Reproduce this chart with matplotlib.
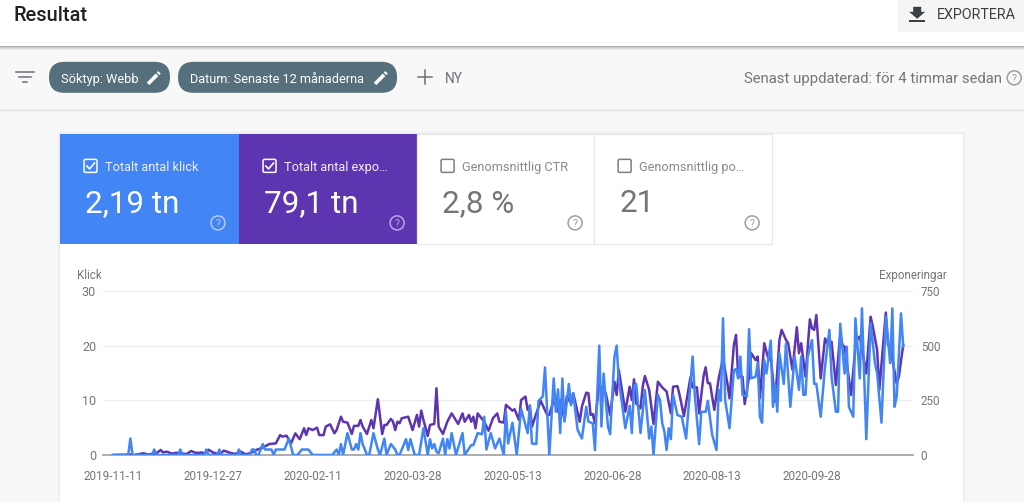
from matplotlib import pyplot as plt
from matplotlib.patches import Rectangle, FancyBboxPatch, Circle, Polygon
import pandas as pd

plt.rcParams['font.family'] = ['Roboto', 'DejaVu Sans']

# Values, day = days since the first date
start_date = "2019-11-11"
tick_dates = ["2019-11-11", "2019-12-27", "2020-02-11", "2020-03-28",
              "2020-05-13", "2020-06-28", "2020-08-13", "2020-09-28"]
left_ticks = [0, 10, 20, 30]
right_ticks = [0, 250, 500, 750]

click_days = [0, 7, 8, 9, 18, 19, 20, 30, 31, 32, 42, 43, 44, 48, 49, 50, 57, 58, 59, 63, 64, 65, 66, 67,
              69, 70, 73, 74, 75, 79, 81, 83, 85, 87, 90, 92, 101, 103, 104, 105, 106, 108, 110, 111, 112,
              113, 114, 115, 117, 118, 120, 122, 123, 125, 126, 128, 130, 131,
              132, 135, 136, 137, 139, 141, 143, 145, 146, 147, 148, 149, 150, 152, 153, 154, 155, 156, 158,
              161, 162, 165, 166, 168, 170, 171, 172, 174, 176, 178, 180, 181, 182, 183, 184, 186, 188, 191,
              192, 193, 195, 196, 198, 199, 201, 203, 204, 205, 206, 207, 208, 210, 211, 212, 214, 216, 218,
              219, 221, 222, 224, 225, 226, 228, 229, 231, 232, 233, 236, 238, 239, 240, 241, 243, 245, 247,
              248, 249, 251,
              252, 253, 254, 255, 256, 257, 258, 260, 262, 264, 267, 268, 270, 271, 273, 274, 276, 278, 279,
              280, 281, 282, 284, 286, 287, 288, 289, 290, 292, 293, 294, 296, 297, 298, 299, 300, 301, 303,
              304, 305, 306, 307, 309, 310, 312, 314, 316, 317, 318, 319, 320, 322, 323, 324, 326, 328, 330,
              331, 333, 334, 335, 337, 338, 339, 341, 342, 344, 345, 347, 349, 351, 352, 354, 356, 358, 359,
              360, 361, 363, 364]
clicks = [0, 0, 3, 0, 0, 1, 0, 0, 1, 0, 0, 1, 0, 0, 1, 0, 0, 1, 0, 0, 1, 1, 0, 0,
          2, 1, 1, 0, 1, 1, 3, 0, 0, 1, 1, 0, 0, 1, 0, 2, 0, 4, 1, 1, 2,
          1, 4, 2, 0, 0, 4, 1, 0, 3, 0, 2, 1, 0,
          0, 2.9, 0.9, 2.9, 0, 0, 4.9, 0, 2.9, 1.2, 2, 0.6, 0.3, 3, 0, 2.9, 1.2, 4, 0,
          4, 0, 1.8, 1.8, 4, 3.8, 7, 1, 4, 1.2, 3, 0, 7.9, 2.1, 4, 5.9, 0, 8.4, 4,
          9.1, 2.1, 2, 9.9, 10.7, 16, 0, 14, 7.9, 12, 4, 14, 6.1, 13, 9.1, 11.3, 4.6, 3, 8.8,
          6.1, 5.8, 0.9, 20, 5.2, 14.9, 5.2, 3.8, 18, 20, 13.7, 4.9, 9, 4, 12.5, 13, 4, 11.9, 3,
          5.2, 0, 11,
          10, 5.8, 4.3, 0.9, 4.9, 2.9, 11, 7.3, 7, 3, 18, 11, 2, 7.9, 7.9, 9.9, 3.7, 0.9, 11.9,
          9.9, 25, 10, 4.9, 15.5, 15.7, 14, 18, 11, 10.7, 23, 14, 14.3, 16.8, 7, 5.9, 17.4, 14.9, 20.9,
          8.8, 12.8, 7.9, 18.6, 13, 20.4, 8.8, 18, 11.9, 18, 11, 11, 18, 21, 13, 13, 7, 16.2, 22.9,
          14.3, 7.9, 7.9, 24, 14.9, 19.8, 8.8, 7, 25, 14, 26.8, 2.9, 24.1, 16.8, 14.9, 5.9, 25.3, 16.8, 26.8,
          8.8, 10.7, 25.9, 19.8]

expo_days = [0, 8, 10, 14, 16, 20, 22, 23, 25, 27, 29, 31, 33, 34, 36, 38, 40, 41, 42, 43, 44, 46, 48, 50, 51,
             54, 56, 58, 59, 61, 63, 64, 66, 69, 72, 75, 77, 78, 80, 82, 84, 86, 88, 89, 90, 92, 94, 95, 97,
             98, 100, 102, 103, 105, 106, 108, 110, 111, 113, 114, 115, 117, 119, 120, 122, 124, 125, 126,
             128, 129, 130, 131,
             132, 133, 136, 138, 140, 141, 142, 143, 145, 146, 148, 149, 150, 152, 154, 156, 159, 161, 162,
             164, 165, 166, 167, 168, 171, 173, 175, 177, 178, 180, 181, 184, 185, 187, 188, 190, 191, 192,
             193, 195, 197, 200, 201, 203, 205, 206, 208, 209, 211, 212, 215, 216, 218, 219, 220, 221, 222,
             224, 225, 227, 229, 231, 232, 233, 236, 238, 239, 240, 241, 243, 244, 245, 247, 249, 251,
             253, 255, 257, 258, 260, 261, 263, 266, 267, 269, 270, 272, 273, 274, 275, 277, 279, 281, 283,
             284, 286, 287, 288, 290, 291, 293, 294, 296, 297, 298, 300, 302, 303, 305, 307, 308, 310, 311,
             313, 315, 316, 317, 319, 321, 322, 323, 324, 326, 328, 329, 331, 333, 335, 336, 337, 340, 342,
             343, 344, 347, 349, 350, 352, 353, 356, 357, 358, 361, 362, 364]
expo = [0, 2, 0, 8, 2, 8, 23, 12, 15, 6, 10, 8, 5, 5, 18, 10, 10, 12, 5, 15, 24, 12, 5, 10, 20,
        10, 5, 10, 15, 3, 8, 12, 23, 34, 50, 53, 91, 84, 88, 53, 99, 72, 122, 91, 122, 114, 125, 91, 91,
        130, 140, 99, 114, 175, 152, 148, 96, 133, 133, 160, 130, 96, 160, 122, 255, 96, 137, 137,
        165, 152, 114, 152,
        145, 168, 175, 114, 183, 130, 203, 160, 87, 137, 142, 305, 130, 96, 152, 190, 142, 190, 152,
        183, 152, 175, 122, 190, 152, 111, 168, 190, 152, 148, 229, 203, 209, 160, 251, 267, 206, 224,
        130, 190, 248, 183, 183, 251, 198, 251, 160, 267, 236, 282, 152, 221, 285, 282, 183, 187, 145,
        328, 297, 282, 183, 335, 274, 389, 198, 312, 251, 346, 236, 213, 312, 361, 297, 142, 335,
        309, 290, 190, 312, 315, 274, 178, 355, 309, 309, 190, 358, 401, 328, 328, 206, 350, 442, 328,
        259, 503, 549, 358, 358, 233, 358, 465, 434, 450, 259, 511, 434, 450, 244, 526, 572, 526, 511,
        389, 584, 465, 511, 358, 620, 579, 572, 640, 350, 533, 511, 518, 320, 556, 503, 495, 274, 495,
        533, 541, 373, 632, 587, 480, 297, 651, 503, 495, 328, 358, 503]

card_labels = ["Totalt antal klick", "Totalt antal expo…", "Genomsnittlig CTR", "Genomsnittlig po…"]
card_values = ["2,19 tn", "79,1 tn", "2,8 %", "21"]

W, H = 1024, 502
BLUE = "#4285f4"
PURPLE = "#5e35b1"
CHIP = "#566f7c"
GRAY = "#757575"


def help_icon(ax, x, y, color):
    ax.add_patch(Circle((x, y), 7, fill=False, ec=color, lw=1.1))
    ax.text(x, y + 1, "?", color=color, fontsize=7.5, ha="center", va="center")


def checkbox(ax, x, y, color, checked):
    ax.add_patch(FancyBboxPatch((x + 0.5, y + 0.5), 13, 13, boxstyle="round,pad=0,rounding_size=1.5",
                                fill=False, ec=color, lw=1.1))
    if checked:
        ax.plot([x + 3.3, x + 6, x + 11], [y + 7.2, y + 10, y + 4.2], color=color, lw=1.2)


def pencil(ax, x, y):
    ax.plot([x - 6, x + 3], [y + 6, y - 3], color="white", lw=2.6, solid_capstyle="butt", zorder=5)
    ax.plot([x + 4, x + 5.5], [y - 4, y - 5.5], color="white", lw=2.6, solid_capstyle="butt", zorder=5)


def chip(ax, x0, x1, label):
    ax.add_patch(FancyBboxPatch((x0, 62), x1 - x0, 31, boxstyle="round,pad=0,rounding_size=15.5",
                                fc=CHIP, ec="none", zorder=3))
    ax.text(x0 + 12, 79, label, color="white", fontsize=9.2, va="center", zorder=4)
    pencil(ax, x1 - 16, 78)


fig = plt.figure(figsize=((W + 0.2) / 100, (H + 0.2) / 100), dpi=100, facecolor="#f8f8f8")

# page chrome in pixel coordinates
bg = fig.add_axes([0, 0, 1, 1])
bg.set_xlim(0, W)
bg.set_ylim(H, 0)
bg.axis("off")

for i, a in enumerate([0.30, 0.18, 0.10, 0.05]):
    bg.add_patch(Rectangle((0, 46 + i), W, 1.2, fc="black", alpha=a, ec="none"))
bg.add_patch(Rectangle((0, 0), W, 46.5, fc="white", ec="none"))
bg.text(13, 15.5, "Resultat", color="#202124", fontsize=14.4, va="center", fontweight="medium")

bg.add_patch(Rectangle((898, 0), 126, 32, fc="#f5f5f5", ec="none"))
bg.add_patch(Polygon([(913, 7), (921, 7), (921, 12), (925, 12), (917, 19), (909, 12), (913, 12)], fc="#3c4043", ec="none"))
bg.add_patch(Rectangle((909, 20), 16, 2, fc="#3c4043", ec="none"))
bg.text(937, 15, "EXPORTERA", color="#3c4043", fontsize=10.3, va="center")

# filter bar
for y, x0, x1 in [(72, 16, 34), (77, 19, 31), (82, 23, 27)]:
    bg.plot([x0, x1], [y, y], color="#6b6f73", lw=1.1)
chip(bg, 49, 170, "Söktyp: Webb")
chip(bg, 178, 397, "Datum: Senaste 12 månaderna")
bg.plot([418, 432], [77.5, 77.5], color="#6b6f73", lw=1.1)
bg.plot([425, 425], [70.5, 84.5], color="#6b6f73", lw=1.1)
bg.text(445, 79, "NY", color="#6b6f73", fontsize=9.8, va="center")
bg.text(744, 79, "Senast uppdaterad: för 4 timmar sedan", color=GRAY, fontsize=10.7, va="center")
help_icon(bg, 1014, 78, "#9e9e9e")
bg.plot([0, W], [110, 110], color="#e0e0e0", lw=1)

# card
for i, a in enumerate([0.01, 0.015, 0.02]):
    bg.add_patch(Rectangle((57 + i, 131 + i), 909 - 2 * i, 400, fc="black", alpha=a, ec="none"))
bg.add_patch(Rectangle((60, 134), 903, 400, fc="white", ec="none"))

# metric tiles
tile_x = [60, 239, 417, 594]
tile_w = [179, 178, 177, 178]
for i in range(4):
    x = tile_x[i]
    active = i < 2
    fc = [BLUE, PURPLE, "white", "white"][i]
    bg.add_patch(Rectangle((x, 134), tile_w[i], 110, fc=fc, ec="none" if active else "#e8e8e8", lw=0.9))
    fg = "white" if active else GRAY
    checkbox(bg, x + 23.5, 159, fg if active else "#7d7d7d", active)
    bg.text(x + 44.5, 167, card_labels[i], color="#f1effa" if active else "#8a8a8a", fontsize=9.2, va="center")
    bg.text(x + 25, 203.5, card_values[i], color=fg, fontsize=22.6, va="center")
    help_icon(bg, x + 158, 223, "#b9c9ee" if i == 0 else "#b9a5e0" if i == 1 else "#9e9e9e")

# the chart itself, x from 103 to 913 px, zero at 455 px, top at 291 px
ax = fig.add_axes([103 / W, 1 - 455 / H, 810 / W, 164 / H], facecolor="none")
start = pd.Timestamp(start_date)
expo_x = start + pd.to_timedelta(expo_days, unit="D")
click_x = start + pd.to_timedelta(click_days, unit="D")

ax.set_ylim(0, 30)
ax.set_yticks(left_ticks)
ax.set_xlim(start - pd.Timedelta(days=4.6), start + pd.Timedelta(days=368.6))
ax.set_xticks(pd.to_datetime(tick_dates))
ax.set_xticklabels(tick_dates)
ax.grid(axis="y", color="#eeeeee", lw=1)
ax.set_axisbelow(True)
for s in ["top", "left", "right"]:
    ax.spines[s].set_visible(False)
ax.spines["bottom"].set_color("#9e9e9e")
ax.spines["bottom"].set_linewidth(1.2)
ax.tick_params(axis="x", length=0, pad=11, labelcolor=GRAY, labelsize=8.4)
ax.tick_params(axis="y", length=0, pad=5, labelcolor=GRAY, labelsize=9)

ax2 = ax.twinx()
ax2.set_ylim(0, 750)
ax2.set_yticks(right_ticks)
for s in ax2.spines.values():
    s.set_visible(False)
ax2.tick_params(axis="y", length=0, pad=5.5, labelcolor=GRAY, labelsize=8.4)

ax2.plot(expo_x, expo, color=PURPLE, lw=1.8, zorder=2, solid_joinstyle="round")
ax3 = ax.twinx()
ax3.set_ylim(0, 30)
ax3.axis("off")
ax3.plot(click_x, clicks, color=BLUE, lw=1.8, zorder=3, solid_joinstyle="round")

bg.text(77, 275.5, "Klick", color=GRAY, fontsize=8.4, va="center")
bg.text(947, 275.5, "Exponeringar", color=GRAY, fontsize=8.4, va="center", ha="right")

fig.savefig("out.png", dpi=100, facecolor=fig.get_facecolor())
